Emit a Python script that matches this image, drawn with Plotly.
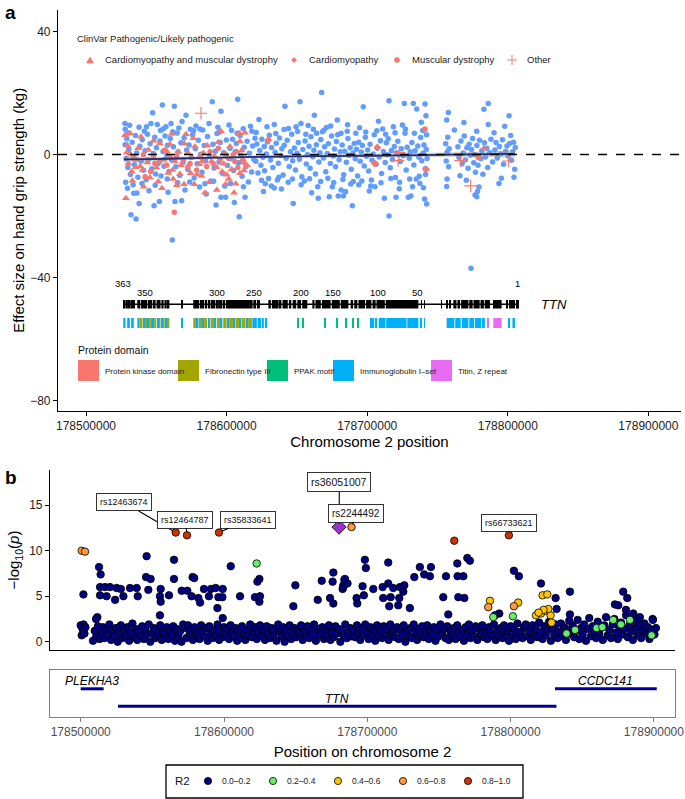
import plotly.graph_objects as go

W, H = 685, 799
FONT = "Liberation Sans, Arial, Helvetica, sans-serif"
REGION_START = 178_500_000          # bp; positions below are kb from this point

# ---------------- panel a data (kb offset, effect in kg) ----------------
a_blue = [
    (27.7,10.1),(32.0,-19.6),(35.6,-21.0),(37.7,8.9),(37.8,-15.9),(46.2,10.1),(47.4,13.6),(48.4,-16.7),
    (50.7,9.8),(52.2,-15.3),(54.3,16.1),(56.9,9.0),(60.5,10.1),(61.4,-27.8),(62.8,15.7),(63.3,-15.3),
    (68.0,-15.0),(68.3,10.7),(71.1,12.8),(78.2,9.3),(83.0,8.0),(87.5,10.1),(89.8,17.2),(92.5,-16.4),
    (96.0,14.1),(96.0,-13.9),(99.3,-13.9),(101.7,9.6),(105.5,-15.6),(107.9,18.0),(109.0,-20.2),(113.1,-13.9),
    (27.9,8.2),(29.5,-11.0),(31.0,9.5),(33.5,-9.8),(36.2,-12.5),(41.5,7.6),(44.8,-11.8),(53.0,7.8),
    (58.4,-12.3),(66.0,8.6),(70.4,-11.5),(74.2,8.2),(80.8,-10.6),(85.5,-12.8),(93.8,8.9),(98.7,-10.2),
    (103.5,7.9),(111.8,8.4),(115.5,-8.9),(117.0,9.2),
    (28.2,-9.0),(30.0,7.0),(34.0,-12.6),(39.8,-9.4),(43.0,9.0),(49.2,-10.0),(55.0,8.4),(57.8,-8.0),(61.7,7.4),
    (65.2,-9.2),(73.8,-8.9),(76.5,7.7),(81.0,8.3),(84.6,-9.5),(90.8,-8.7),(95.0,7.3),(102.8,-9.4),(107.5,6.9),
    (112.0,-10.5),(118.0,7.6),
    (27.8,3.2),(28.5,-1.3),(29.0,5.1),(29.8,-4.2),(30.5,1.8),(31.6,-6.5),(32.8,4.0),(33.9,-0.8),(34.5,-3.3),
    (35.2,6.2),(36.0,0.5),(36.9,-7.4),(38.3,2.7),(39.2,-2.2),(40.0,4.8),(40.9,-5.1),(42.0,1.2),(42.8,-8.2),
    (43.7,6.6),(44.2,-1.7),(45.6,3.5),(46.8,-4.6),(47.9,0.3),(48.9,5.6),(49.5,-6.3),(50.1,2.2),(51.3,-2.9),
    (52.6,4.4),(53.4,-7.0),(54.8,1.0),(55.5,-3.8),(56.2,6.0),(57.5,-0.4),(58.0,3.0),(59.0,-5.5),(59.9,5.2),
    (61.0,-1.9),(62.2,2.5),(63.9,-4.0),(64.8,7.0),(65.5,0.8),(66.7,-6.8),(67.5,3.8),(69.0,-2.6),(69.8,5.4),
    (71.6,1.5),(72.4,-4.9),(73.3,3.1),(74.9,-1.0),(75.8,6.4),(76.9,-7.6),(77.8,1.9),(79.1,-3.0),(79.9,4.6),
    (81.6,0.1),(82.5,-5.8),(84.1,2.9),(85.0,-2.1),(86.4,5.9),(87.9,-0.6),(88.8,-8.6),(90.3,3.3),(91.1,-4.4),
    (92.0,1.1),(93.2,6.8),(94.6,-2.4),(95.4,3.9),(97.1,-6.1),(97.9,0.6),(99.8,4.7),(100.6,-3.6),(102.4,2.0),
    (103.0,-1.4),(104.2,5.0),(105.0,-5.2),(106.1,0.9),(106.9,3.6),(108.4,-2.7),(109.6,6.1),(110.3,-0.2),
    (111.0,-7.1),(112.5,2.4),(113.8,-3.9),(114.6,4.3),(116.2,0.4),(117.8,-5.7),(118.6,2.8),(119.4,-1.6),(120.2,5.3),
    (123.0,11.4),(133.9,9.8),(133.9,-10.9),(136.1,-8.3),(141.5,15.7),(147.4,-15.9),(149.4,9.0),(152.2,17.2),
    (152.9,10.1),(155.3,-8.6),(162.4,12.8),(164.8,-10.5),(165.2,-14.2),(167.6,20.2),(168.1,7.4),(173.0,-13.7),
    (175.2,-10.5),(178.7,11.2),(179.4,-13.5),(181.4,6.9),(181.4,-11.5),(184.7,-12.1),(189.4,-16.7),(190.1,-8.8),
    (197.2,15.5),(215.5,17.5),(226.4,16.6),(232.8,16.6),(235.2,14.8),(241.1,16.4),(241.8,12.6),(218.6,9.0),
    (215.5,-20.0),(184.2,-12.1),(212.2,-14.2),(220.5,-13.9),(229.2,-13.9),(231.1,-13.5),(242.3,-16.1),(201.5,-11.9),
    (202.5,-10.2),(205.5,-10.5),(222.8,-11.1),(232.3,-10.5),(237.5,-9.4),(183.0,-13.5),(127.5,-9.5),(144.0,8.5),
    (158.0,9.4),(171.0,8.8),(186.0,9.7),(194.0,-9.8),(208.0,10.8),(211.0,8.3),(225.0,9.6),(238.5,10.5),
    (240.8,-14.5),(239.5,7.8),(126.2,-12.0),(139.0,-11.2),(160.5,-12.4),
    (121.0,7.2),(124.8,-8.4),(128.7,9.0),(131.8,-10.2),(135.0,6.8),(137.2,-7.4),(140.8,8.1),(143.8,-9.0),
    (146.8,-8.0),(150.5,7.5),(153.0,-9.8),(156.3,6.6),(159.0,-7.9),(161.7,8.2),(164.0,6.9),(166.9,-8.8),
    (169.2,7.9),(172.0,-7.7),(174.0,9.3),(176.2,-9.1),(179.0,6.4),(182.7,-8.1),(185.8,7.6),(188.3,-9.6),
    (191.9,6.9),(194.6,8.7),(196.2,-8.6),(199.0,7.3),(203.0,-8.3),(206.8,7.7),(209.8,-9.2),(213.1,6.6),
    (216.8,-7.8),(219.8,7.1),(223.0,-9.0),(227.2,8.3),(230.2,-8.0),(233.6,6.9),(237.0,-7.1),(240.0,-10.8),
    (241.5,-6.5),(242.2,6.4),
    (120.8,-2.2),(121.5,3.4),(122.3,-6.0),(123.6,1.3),(124.4,-3.5),(125.1,5.0),(125.9,-0.9),(126.8,2.6),(127.0,-5.3),
    (128.2,0.2),(129.0,4.1),(129.8,-7.8),(130.4,6.3),(131.2,-1.8),(132.0,2.3),(132.9,-4.2),(134.5,0.7),(135.3,3.7),
    (136.8,-2.8),(137.6,5.4),(138.4,-0.3),(139.3,1.9),(140.2,-6.7),(141.0,3.0),(142.3,-1.2),(143.1,4.6),(144.5,-3.9),
    (145.4,0.9),(146.3,6.6),(147.0,-2.0),(148.2,2.1),(149.0,-5.0),(150.1,0.4),(151.0,3.9),(151.8,-1.5),(153.5,-7.2),
    (154.2,1.6),(155.8,4.4),(156.7,-3.1),(157.5,0.0),(158.6,2.7),(159.4,-4.5),(160.0,5.8),(161.3,-0.7),(162.0,1.4),
    (163.2,-6.3),(163.9,3.2),(165.6,-2.4),(166.4,0.6),(167.0,4.9),(168.9,-1.1),(169.7,2.5),(170.5,-5.6),(171.6,0.3),
    (172.4,3.5),(173.8,-2.9),(174.6,6.0),(175.9,-0.5),(176.7,1.8),(177.5,-4.0),(178.1,4.2),(180.0,-1.7),(180.8,0.9),
    (182.2,3.1),(183.3,-6.6),(184.0,1.1),(185.2,-2.5),(186.3,5.2),(187.0,-0.2),(187.9,2.2),(188.7,-4.8),(189.9,0.5),
    (190.8,3.6),(191.5,-1.4),(192.4,1.7),(193.2,-7.0),(193.9,4.0),(195.0,-2.2),(195.8,0.8),(196.6,2.9),(197.9,-3.7),
    (198.7,5.6),(199.5,-0.6),(200.3,1.5),(201.0,-5.4),(202.0,3.3),(203.4,-1.9),(204.2,0.2),(205.0,6.4),(206.3,-3.2),
    (207.1,2.0),(208.5,-0.8),(209.4,4.5),(210.2,-6.2),(211.5,1.0),(212.8,-2.6),(213.6,3.8),(214.3,-0.1),(215.0,5.1),
    (216.4,-4.3),(217.2,1.3),(218.0,-1.6),(219.3,2.6),(220.1,-7.5),(221.0,0.6),(221.8,4.3),(223.5,-2.3),(224.3,1.9),
    (225.6,-0.4),(226.9,6.9),(227.7,-5.0),(228.4,2.4),(229.9,-1.2),(230.6,0.9),(231.8,3.9),(233.2,-3.4),(234.0,1.2),
    (234.9,-8.0),(236.0,2.8),(236.8,-0.9),(238.0,5.5),(238.8,-2.0),(239.6,0.4),(240.4,3.1),(241.3,-4.6),(242.0,1.6),
    (242.6,-1.3),
    (256.5,-10.4),(257.7,13.7),(256.5,11.2),(266.0,-6.9),(268.8,10.4),(286.1,16.6),(283.0,14.7),(286.1,9.8),
    (277.9,7.6),(290.2,7.1),(300.9,12.6),(276.7,-13.2),(277.9,-13.7),(293.7,-9.4),(295.4,-7.7),(304.4,-7.4),
    (273.8,-37.0),(279.5,-10.6),(278.4,-12.0),(270.5,-8.4),(262.0,8.0),(297.8,9.2),(302.0,6.2),(256.8,-8.0),
    (255.8,3.5),(256.2,-2.1),(256.9,0.8),(257.3,5.6),(257.9,-4.0),(258.3,1.9),(264.5,2.5),(265.3,-1.0),(266.7,4.4),
    (267.5,-3.0),(268.2,0.5),(269.0,6.0),(269.8,-1.8),(270.9,2.2),(271.7,-4.5),(272.5,3.3),(273.4,-0.2),(274.2,1.6),
    (275.0,5.2),(275.8,-2.7),(276.3,0.0),(277.0,-5.8),(278.0,2.9),(278.8,-3.5),(279.9,4.6),(280.7,-1.4),(281.5,1.2),
    (282.3,-6.4),(283.4,3.8),(284.1,-0.8),(285.0,2.0),(285.7,-4.2),(287.2,0.6),(288.0,5.0),(289.2,-2.4),(290.8,1.5),
    (291.6,3.9),(292.5,-1.1),(294.0,2.6),(295.0,0.2),(296.2,4.8),(297.0,-3.2),(298.5,1.0),(299.4,2.8),(300.2,-0.5),
    (301.3,3.6),(302.6,-1.9),(303.5,0.9),(304.1,4.0),(304.9,-4.8),(305.3,2.3),
]

a_cardio_musc = [   # triangles
    (27.7,6.3),(31.3,6.9),(39.1,5.8),(60.9,6.7),(71.1,6.6),(76.3,5.3),(96.0,7.6),(109.1,6.9),(113.1,7.1),
    (28.9,0.6),(28.4,-14.2),(84.6,-12.4),(105.3,-12.4),(69.7,-9.7),(77.0,-9.7),(51.4,-8.8),(99.3,-9.7),
    (32.5,-5.6),(40.3,-5.0),(50.2,-4.3),(55.0,-1.8),(63.3,-2.3),(43.6,-2.6),(36.5,-1.8),(30.1,-2.9),
    (65.6,0.9),(72.3,0.6),(80.6,-3.2),(89.3,-2.3),(92.9,-4.1),(96.9,-5.6),(103.6,-4.8),(109.5,4.2),
    (110.7,1.3),(91.2,-0.5),(86.3,2.9),(59.7,3.3),(52.6,3.6),(44.3,1.5),(35.3,-4.1),(66.8,-6.3),
    (74.4,-6.1),(82.2,-7.0),(100.0,-6.6),(109.5,-6.1),(112.4,-5.2),(102.4,2.6),(107.2,0.9),(77.5,2.6),
    (61.6,-5.0),(283.0,2.0),
    (29.5,3.0),(33.0,-8.5),(37.0,2.0),(41.0,-10.5),(45.5,-7.5),(48.0,4.5),(54.0,-11.0),(57.5,1.0),(62.0,-8.0),
    (67.5,-3.5),(70.0,3.5),(75.0,-1.0),(79.0,-6.5),(83.5,0.5),(87.5,-9.0),(94.0,4.0),(98.0,-3.0),(101.5,-8.0),
    (106.5,-9.5),(111.5,-1.5),(114.5,-3.5),(38.5,-3.8),(58.5,-6.0),(64.5,-10.0),(93.0,-11.5),
]
a_cardio = [        # diamonds
    (207.2,2.3),(205.5,-2.9),(241.9,-4.8),(129.7,4.7),
]
a_muscular = [      # circles
    (33.6,-1.2),(40.8,-0.1),(47.9,-0.7),(52.6,-2.3),(57.3,-3.4),(64.5,-0.7),(69.2,-1.8),(74.0,-2.9),
    (81.1,-0.7),(85.8,-3.9),(90.5,-2.9),(95.3,-1.8),(101.2,-1.2),(105.9,-2.3),(88.2,0.9),(49.0,-2.9),
    (42.0,-7.2),(78.7,-5.0),(94.1,2.0),(104.7,-0.1),(62.8,-18.8),(241.1,8.3),(279.0,-1.0),
    (30.8,0.3),(46.0,-5.5),(56.0,1.5),(60.0,-1.0),(72.5,-4.0),(83.0,-2.0),(99.0,0.2),(108.0,-4.2),(112.0,-2.5),
]
a_other = [         # crosses
    (81.8,13.4),(222.8,0.7),(222.0,-2.0),(266.4,-2.0),(273.6,-10.2),(300.4,-2.1),
]
clinvar_labels = ["Cardiomyopathy and muscular dystrophy", "Cardiomyopathy", "Muscular dystrophy", "Other"]

smooth_kb = [27, 45, 65, 85, 105, 125, 150, 175, 200, 225, 250, 275, 305]
smooth_fit = [-1.6, -1.5, -1.3, -1.1, -0.9, -0.75, -0.6, -0.5, -0.4, -0.25, -0.1, 0.05, 0.2]
smooth_lo = [-2.7, -2.2, -1.85, -1.6, -1.35, -1.2, -1.05, -0.95, -0.85, -0.75, -0.7, -0.75, -1.0]
smooth_hi = [-0.5, -0.8, -0.75, -0.6, -0.45, -0.3, -0.15, -0.05, 0.05, 0.25, 0.5, 0.85, 1.4]

# TTN exon model (kb)
ttn_span_kb = (26.5, 307.5)
exon_start_kb = [26.5,28.0,30.3,31.5,36.5,39.0,44.0,47.5,50.2,53.6,55.8,58.0,67.8,76.3,81.0,84.5,86.8,88.6,92.5,
                 94.0,96.0,97.6,99.6,101.0,119.0,121.6,129.7,132.2,137.8,139.8,144.3,147.0,150.3,153.8,161.0,
                 163.2,167.8,174.8,181.2,188.2,190.8,193.8,199.2,203.8,206.6,213.2,238.3,240.5,252.7,256.2,
                 258.4,261.3,264.2,266.8,272.6,275.6,280.6,283.6,289.7,291.3,293.0,294.4,299.2,301.0,302.5,
                 304.2,306.0,307.0]
exon_end_kb = [27.5,29.8,31.0,34.8,38.5,43.5,47.0,49.5,53.0,55.2,57.4,59.3,68.3,80.5,84.0,86.2,88.0,92.0,93.4,
               95.5,97.0,99.0,100.4,118.5,121.0,123.7,131.5,137.0,139.0,143.5,146.0,149.5,153.0,157.4,162.5,
               167.0,174.0,180.5,186.6,190.0,193.0,198.5,203.0,206.0,212.5,236.4,238.9,241.1,253.2,256.8,
               259.0,263.5,266.0,272.0,275.0,280.0,283.0,287.3,290.5,292.2,293.6,295.6,299.8,301.6,303.3,
               304.8,306.6,307.5]
exon_label_text = ["363", "350", "300", "250", "200", "150", "100", "50", "1"]
exon_label_kb = [26.3, 42.0, 93.2, 119.5, 152.9, 175.7, 207.7, 236.1, 307.2]
exon_label_eff = [-42.1, -45.0, -45.0, -45.0, -45.0, -45.0, -45.0, -45.0, -42.1]

domain_names = ["Protein kinase domain", "Fibronectin type III", "PPAK motif", "Immunoglobulin I\u2013set", "Titin, Z repeat"]
domain_colors = ["#F8766D", "#A3A500", "#00BF7D", "#00B0F6", "#E76BF3"]
domain_segments = {
    "Protein kinase domain": [],
    "Fibronectin type III": [(38.0,40.2),(41.8,43.5),(45.0,47.0),(48.5,50.0),(51.5,53.0),(54.6,56.0),(58.0,59.3),
                             (76.3,78.5),(80.3,82.5),(84.0,86.2),(88.6,91.0),(93.0,95.5),(97.6,100.0),(101.8,104.5),
                             (106.3,109.0),(110.8,113.5),(115.3,118.0)],
    "PPAK motif": [(150.7,151.3),(154.2,154.8),(169.6,170.2),(178.5,179.3),(184.2,185.8),(189.4,190.0),(193.4,194.0)],
    "Immunoglobulin I\u2013set": [(26.5,28.1),(29.3,31.2),(32.1,34.0),(36.5,38.0),(40.6,41.8),(44.0,45.0),(47.5,48.5),
                                 (50.5,51.5),(53.6,54.6),(56.5,57.4),(67.8,68.4),(78.8,80.0),(82.8,83.8),(86.8,88.0),
                                 (91.3,92.5),(96.0,97.0),(100.4,101.4),(104.8,106.0),(109.3,110.5),(113.8,115.0),
                                 (118.3,121.5),(122.0,124.5),(125.0,126.5),(127.4,128.2),(202.0,202.8),(204.0,205.0),
                                 (206.0,207.0),(208.2,213.0),(213.5,228.0),(228.5,236.4),(238.2,238.9),(240.5,241.1),
                                 (256.5,262.0),(262.6,266.5),(267.2,272.0),(272.6,276.0),(276.6,281.0),(281.5,283.7),
                                 (300.4,301.6),(303.3,305.1)],
    "Titin, Z repeat": [(285.9,286.4),(289.7,295.6)],
}

# ---------------- panel b data (kb offset, -log10 p) ----------------
b_r2_00_02 = [
    (46.0,9.4),(65.1,9.0),(104.7,8.3),(12.8,8.2),(13.9,7.4),(45.6,7.1),(48.8,6.9),(78.1,7.1),(79.2,7.0),(65.1,6.9),
    (124.7,6.9),(123.3,6.6),(149.8,6.2),(176.3,7.6),(175.8,6.6),(168.2,6.7),(184.0,6.8),(183.3,6.2),(182.8,5.8),
    (1.9,5.2),(13.5,6.0),(17.0,6.0),(20.5,6.0),(25.1,5.9),(28.0,5.8),(34.4,5.9),(39.1,5.9),(13.5,5.1),(18.1,5.0),
    (24.0,4.6),(29.8,5.0),(39.8,5.0),(47.2,5.7),(55.8,5.8),(55.3,5.0),(55.8,4.4),(61.6,5.1),(70.5,5.6),(74.4,5.6),
    (77.4,5.0),(82.1,4.8),(83.3,4.3),(86.0,5.8),(89.5,5.0),(90.9,5.8),(94.2,5.9),(96.1,4.9),(99.1,5.8),(98.9,4.9),
    (95.4,3.7),(99.1,2.6),(111.2,5.0),(121.6,4.9),(124.7,4.4),(125.1,5.0),(148.4,3.9),(165.4,4.6),(174.0,4.8),
    (176.3,4.2),(55.3,2.9),(11.6,2.7),(10.7,2.5),
    (198.3,9.0),(199.0,8.1),(214.6,8.7),(236.7,8.2),(244.4,8.2),(239.7,7.4),(243.7,7.2),(232.8,7.1),(254.9,7.2),
    (262.8,8.6),(263.0,7.2),(267.0,7.2),(269.8,9.2),(271.6,8.9),(302.3,7.8),(305.8,7.2),(321.2,6.4),(341.4,5.5),
    (331.4,4.8),(332.1,3.6),(341.4,3.0),(378.6,5.5),(381.4,4.8),(372.8,4.1),(375.1,4.0),(380.5,3.5),(385.6,3.1),
    (390.2,2.7),(399.1,2.5),(184.4,6.9),(183.2,6.0),(196.7,6.1),(204.2,5.8),(210.7,6.0),(214.6,6.4),(218.1,5.9),
    (222.8,6.0),(225.8,6.2),(225.1,5.5),(192.5,4.8),(193.0,4.2),(197.6,5.1),(211.1,4.8),(216.3,4.9),(222.3,4.8),
    (215.3,3.9),(221.6,4.0),(229.7,3.7),(253.0,4.9),(263.5,4.9),(267.7,4.8),(256.5,3.0),(292.1,3.1),(289.1,2.9),
    (186.2,6.4),
    (0.0,1.8),(0.7,0.7),(1.3,1.4),(2.0,1.9),(2.6,0.9),(3.3,1.6),(8.6,0.1),(9.8,1.2),(10.9,0.6),(12.0,1.7),(13.2,0.3),
    (14.3,1.0),(15.5,1.6),(16.6,0.4),(17.8,1.3),(18.9,0.8),(20.0,1.9),(21.2,0.2),(22.3,1.1),(23.5,0.6),(24.6,1.5),
    (25.8,0.0),(26.9,0.9),(28.0,1.8),(29.2,0.4),(30.3,1.3),(31.5,0.7),(32.6,1.6),(33.8,0.1),(34.9,1.0),(36.1,2.0),
    (37.2,0.5),(38.3,1.4),(39.5,0.2),(40.6,1.1),(41.8,0.6),(42.9,1.7),(44.1,0.3),(45.2,1.2),(46.3,0.8),(47.5,1.9),
    (48.6,0.0),(49.8,0.9),(50.9,1.5),(52.1,0.4),(53.2,1.3),(54.3,0.7),(55.5,1.8),(56.6,0.2),(57.8,1.0),(58.9,0.5),
    (60.1,1.6),(61.2,0.3),(62.3,1.2),(63.5,0.8),(64.6,1.7),(65.8,0.1),(66.9,1.4),(68.1,0.6),(69.2,1.1),(70.3,0.0),
    (71.5,1.9),(72.6,1.5),(73.8,0.4),(74.9,1.8),(76.1,0.9),(77.2,1.3),(78.3,0.2),(79.5,1.6),(80.6,0.7),(81.8,1.0),
    (82.9,0.3),(84.1,1.8),(85.2,1.2),(86.3,0.6),(87.5,1.5),(88.6,0.1),(89.8,1.7),(90.9,0.9),(92.1,0.4),(93.2,1.3),
    (94.3,0.7),(95.5,1.9),(96.6,0.2),(97.8,1.1),(98.9,0.5),(100.1,1.6),(101.2,0.8),(102.3,1.4),(103.5,0.3),
    (104.6,1.8),(105.8,1.0),(106.9,0.6),(108.1,1.5),(109.2,0.1),(110.3,1.2),(111.5,0.4),(112.6,1.7),(113.8,0.9),
    (114.9,0.2),(116.1,1.3),(117.2,0.7),(118.3,1.9),(119.5,0.5),(120.6,1.1),(121.8,1.6),(122.9,0.3),(124.1,1.0),
    (125.2,1.8),(126.3,0.6),(127.5,1.3),(128.6,0.2),(129.8,1.7),(130.9,0.9),(132.1,0.4),(133.2,1.5),(134.3,0.7),
    (135.5,1.2),(136.6,0.1),(137.8,1.9),(138.9,1.1),(140.1,0.6),(141.2,1.6),(142.3,0.0),(143.5,1.2),(144.6,0.7),
    (145.8,1.8),(146.9,0.3),(148.1,1.0),(149.2,1.5),(150.3,0.5),(151.5,1.3),(152.6,0.9),(153.8,1.8),(154.9,0.2),
    (156.1,1.1),(157.2,0.6),(158.3,1.7),(159.5,0.4),(160.6,1.2),(161.8,0.8),(162.9,1.9),(164.1,0.1),(165.2,1.4),
    (166.3,0.7),(167.5,1.0),(168.6,1.6),(169.8,0.3),(170.9,1.3),(172.1,0.6),(173.2,1.8),(174.3,0.2),(175.5,1.1),
    (176.6,0.5),(177.8,1.7),(178.9,0.9),(180.1,1.4),(181.2,0.0),(182.3,1.2),(183.5,0.7),(184.6,1.9),(185.8,0.4),
    (186.9,1.0),(188.1,1.5),(189.2,0.6),
    (190.4,1.3),(191.6,0.5),(192.8,1.8),(193.9,0.9),(195.1,0.2),(196.3,1.5),(197.4,0.7),(198.6,1.9),(199.8,1.1),
    (200.9,0.3),(202.1,1.6),(203.3,0.8),(204.4,1.3),(205.6,0.1),(206.8,1.8),(207.9,0.6),(209.1,1.2),(210.3,0.4),
    (211.4,1.7),(212.6,0.9),(213.8,1.4),(214.9,0.2),(216.1,1.9),(217.3,0.7),(218.4,1.1),(219.6,0.5),(220.8,1.6),
    (221.9,0.3),(223.1,1.3),(224.3,0.8),(225.4,1.8),(226.6,0.0),(227.8,1.2),(228.9,0.6),(230.1,1.5),(231.3,0.4),
    (232.4,1.9),(233.6,1.0),(234.8,0.2),(235.9,1.4),(237.1,0.7),(238.3,1.7),(239.4,0.5),(240.6,1.1),(241.8,1.8),
    (242.9,0.3),(244.1,1.3),(245.3,0.8),(246.4,1.6),(247.6,0.1),(248.8,1.2),(249.9,0.6),(251.1,1.9),(252.3,0.9),
    (253.4,1.4),(254.6,0.4),(255.8,1.7),(256.9,0.2),(258.1,1.1),(259.3,0.7),(260.4,1.5),(261.6,0.3),(262.8,1.8),
    (263.9,1.0),(265.1,0.5),(266.3,1.3),(267.4,0.1),(268.6,1.6),(269.8,0.8),(270.9,1.9),(272.1,0.4),(273.3,1.2),
    (274.4,0.6),(275.6,1.7),(276.8,0.2),(277.9,1.4),(279.1,0.9),(280.3,1.8),(281.4,0.5),(282.6,1.1),(283.8,0.3),
    (284.9,1.6),(286.1,1.0),(287.3,0.6),(288.4,1.9),(289.6,0.2),(290.8,1.3),(291.9,0.7),(293.1,1.5),(294.3,0.4),
    (295.4,1.8),(296.6,0.9),(297.8,1.2),(298.9,0.1),(300.1,1.7),(301.3,0.6),(302.4,1.4),(303.6,0.3),(304.8,2.0),
    (305.9,0.8),(307.1,1.1),(308.3,0.4),(309.4,1.6),(310.6,1.9),(311.8,0.6),(312.9,1.2),(314.1,0.2),(315.3,1.8),
    (316.4,0.9),(317.6,1.4),(318.8,0.5),(319.9,2.1),(321.1,1.0),(322.3,0.3),(323.4,1.7),(324.6,0.7),(325.8,1.3),
    (326.9,2.2),(328.1,0.1),(329.3,1.5),(330.4,0.8),(331.6,1.9),(332.8,0.4),(333.9,1.1),(335.1,2.0),(336.3,0.6),
    (337.4,1.6),(338.6,0.2),(339.8,1.3),(340.9,2.3),(342.1,0.9),(343.3,1.8),(344.4,0.5),(345.6,1.2),(346.8,2.4),
    (347.9,0.3),(349.1,1.5),(350.3,0.8),(351.4,1.9),(352.6,0.1),(353.8,1.4),(354.9,2.6),(356.1,0.6),(357.3,1.7),
    (358.4,1.1),(359.6,0.4),(360.8,2.2),(361.9,0.9),(363.1,1.5),(364.3,0.2),(365.4,1.8),(366.6,2.7),(367.8,0.7),
    (368.9,1.3),(370.1,0.4),(371.3,1.9),(372.4,2.5),(373.6,1.0),(374.8,0.3),(375.9,1.6),(377.1,2.1),(378.3,0.8),
    (379.4,1.4),(380.6,2.9),(381.8,0.5),(382.9,1.8),(384.1,1.1),(385.3,0.2),(386.4,2.3),(387.6,1.5),(388.8,0.7),
    (389.9,1.9),(391.1,0.4),(392.3,1.2),(393.4,2.0),(394.6,0.9),(395.8,1.6),(396.9,0.3),(398.1,1.3),(399.3,2.4),
    (400.4,0.8),(401.4,1.5),
]
b_r2_02_04 = [(122.8,8.6),(301.6,2.8),(287.9,2.7),(360.0,1.5),(364.0,1.6),(371.6,2.4),(383.3,2.4),(398.4,0.7),
              (339.0,0.9),(345.0,1.3),(377.0,1.9)]
b_r2_04_06 = [(285.6,4.5),(305.3,4.3),(322.3,5.1),(325.6,5.2),(317.7,2.9),(321.2,3.1),(324.6,3.4),(327.9,2.9),
              (326.3,3.6),(328.6,2.1),(323.0,3.5),(319.5,3.2)]
b_r2_06_08 = [(0.7,10.0),(3.0,9.9),(189.0,12.6),(284.4,3.8),(302.3,3.9)]
b_r2_08_10 = [(66.3,12.0),(74.2,11.7),(96.5,12.0),(260.7,11.1),(298.8,11.7)]
b_lead = [(180.3,12.6)]
r2_labels = ["0.0\u20130.2", "0.2\u20130.4", "0.4\u20130.6", "0.6\u20130.8", "0.8\u20131.0"]
r2_colors = ["#000080", "#66EE66", "#FFC400", "#FF9A3C", "#CC3300"]

# SNP labels: text, point (kb, p), label centre (kb, p), font size
snp_labels = [
    ("rs12463674", 66.3, 12.0, 30.2, 15.3, 9),
    ("rs12464787", 74.2, 11.7, 73.0, 13.4, 9),
    ("rs35833641", 96.5, 12.0, 116.8, 13.4, 9),
    ("rs36051007", 180.3, 12.6, 180.5, 17.5, 10.5),
    ("rs2244492", 189.0, 12.6, 192.2, 14.1, 10),
    ("rs66733621", 298.8, 11.7, 298.8, 13.1, 9),
]

# ---------------- gene track data ----------------
gene_names = ["PLEKHA3", "TTN", "CCDC141"]
gene_start_kb = [0.0, 26.0, 331.0]
gene_end_kb = [16.0, 332.0, 402.0]
gene_row = [0.6, 0.23, 0.6]

xticks_bp = [178500000, 178600000, 178700000, 178800000, 178900000]

# ---------------- helpers ----------------
def bp(kbs):
    return [None if k is None else REGION_START + k * 1000 for k in kbs]

def col(pairs, i):
    return [p[i] for p in pairs]

def px(x):
    return x / W

def py(y):
    return 1 - y / H

BLUE, PINK = "#619CFF", "#F8766D"
EXON_ROW, DOMAIN_ROW = -48.7, -54.8

fig = go.Figure()

# panel a points
fig.add_trace(go.Scatter(x=bp(col(a_blue, 0)), y=col(a_blue, 1), mode="markers",
                         marker=dict(color=BLUE, size=5.5, line=dict(width=0)), hoverinfo="skip"))
for pts, sym, size in [(a_muscular, "circle", 5.5), (a_cardio, "diamond", 6),
                       (a_cardio_musc, "triangle-up", 7)]:
    fig.add_trace(go.Scatter(x=bp(col(pts, 0)), y=col(pts, 1), mode="markers",
                             marker=dict(color=PINK, size=size, symbol=sym, line=dict(width=0)),
                             hoverinfo="skip"))
fig.add_trace(go.Scatter(x=bp(col(a_other, 0)), y=col(a_other, 1), mode="markers",
                         marker=dict(color=PINK, size=9, symbol="cross-thin-open", line=dict(width=1.1, color=PINK)),
                         hoverinfo="skip"))
# smooth + CI
fig.add_trace(go.Scatter(x=bp(smooth_kb), y=smooth_lo, mode="lines", line=dict(width=0), hoverinfo="skip"))
fig.add_trace(go.Scatter(x=bp(smooth_kb), y=smooth_hi, mode="lines", line=dict(width=0), fill="tonexty",
                         fillcolor="rgba(150,150,150,0.45)", hoverinfo="skip"))
fig.add_trace(go.Scatter(x=bp(smooth_kb), y=smooth_fit, mode="lines", line=dict(color="#222C78", width=1.8, shape="spline"),
                         hoverinfo="skip"))

# TTN gene model
fig.add_trace(go.Scatter(x=bp(list(ttn_span_kb)), y=[EXON_ROW, EXON_ROW], mode="lines",
                         line=dict(color="black", width=1.3), hoverinfo="skip"))
fig.add_trace(go.Bar(x=[(e - s) * 1000 for s, e in zip(exon_start_kb, exon_end_kb)], base=bp(exon_start_kb),
                     y=[EXON_ROW] * len(exon_start_kb), orientation="h", width=2.7,
                     marker=dict(color="black", line=dict(width=0)), hoverinfo="skip"))
for name, colr in zip(domain_names, domain_colors):
    segs = domain_segments[name]
    if not segs:
        continue
    fig.add_trace(go.Bar(x=[(e - s) * 1000 for s, e in segs], base=bp([s for s, _ in segs]),
                         y=[DOMAIN_ROW] * len(segs), orientation="h", width=3.25,
                         marker=dict(color=colr, line=dict(width=0)), hoverinfo="skip"))

# panel b points
for pts, colr in zip([b_r2_00_02, b_r2_02_04, b_r2_04_06, b_r2_06_08, b_r2_08_10], r2_colors):
    fig.add_trace(go.Scatter(x=bp(col(pts, 0)), y=col(pts, 1), mode="markers", xaxis="x2", yaxis="y2",
                             marker=dict(color=colr, size=7.5, line=dict(color="black", width=0.8)),
                             hoverinfo="skip"))
fig.add_trace(go.Scatter(x=bp(col(b_lead, 0)), y=col(b_lead, 1), mode="markers", xaxis="x2", yaxis="y2",
                         marker=dict(color="#9933CC", size=11, symbol="diamond", line=dict(color="black", width=0.8)),
                         hoverinfo="skip"))

# gene track
gx, gy = [], []
for s, e, r in zip(gene_start_kb, gene_end_kb, gene_row):
    gx += bp([s, e, None])
    gy += [r, r, None]
fig.add_trace(go.Scatter(x=gx, y=gy, mode="lines", xaxis="x3", yaxis="y3",
                         line=dict(color="#000099", width=3), hoverinfo="skip"))

annotations = []
shapes = []

def paper_text(x, y, text, size, color="#222", xanchor="left"):
    return dict(x=px(x), y=py(y), xref="paper", yref="paper", text=text, showarrow=False,
                xanchor=xanchor, yanchor="middle", font=dict(size=size, color=color))

# exon numbers & TTN label
for t, k, e in zip(exon_label_text, exon_label_kb, exon_label_eff):
    annotations.append(dict(x=bp([k])[0], y=e, xref="x", yref="y", text=t, showarrow=False,
                            xanchor="center", yanchor="middle", font=dict(size=9.5, color="black")))
annotations.append(dict(x=bp([332.5])[0], y=EXON_ROW, xref="x", yref="y", text="<i>TTN</i>", showarrow=False,
                        xanchor="center", yanchor="middle", font=dict(size=13, color="black")))

# gene names
for n, s, e, r in zip(gene_names, gene_start_kb, gene_end_kb, gene_row):
    annotations.append(dict(x=bp([(s + e) / 2])[0], y=r - 0.03, xref="x3", yref="y3", text=f"<i>{n}</i>",
                            showarrow=False, xanchor="center", yanchor="bottom", font=dict(size=12, color="black")))

# SNP labels
for t, pk, pp, lk, lp, fs in snp_labels:
    annotations.append(dict(x=bp([pk])[0], y=pp, xref="x2", yref="y2", ax=bp([lk])[0], ay=lp,
                            axref="x2", ayref="y2", text=t, showarrow=True, arrowhead=0, arrowwidth=1.1,
                            arrowcolor="black", standoff=3, bgcolor="white", bordercolor="#333",
                            borderwidth=1, borderpad=3, font=dict(size=fs, color="#111")))

# panel letters
annotations.append(paper_text(3, 12, "<b>a</b>", 19, "black"))
annotations.append(paper_text(3, 477, "<b>b</b>", 19, "black"))

# ClinVar legend (drawn as key)
annotations.append(paper_text(75, 39, "ClinVar Pathogenic/Likely pathogenic", 9.5))
cv_x = [90, 294, 397, 512]
cy = 60
for lab, cx in zip(clinvar_labels, cv_x):
    annotations.append(paper_text(cx + 13, cy, lab, 9.5))
def P(x, y):
    return f"{px(x):.5f},{py(y):.5f}"
shapes.append(dict(type="path", xref="paper", yref="paper", fillcolor=PINK, line=dict(width=0),
                   path=f"M {P(cv_x[0]-4, cy+3.2)} L {P(cv_x[0]+4, cy+3.2)} L {P(cv_x[0], cy-3.6)} Z"))
shapes.append(dict(type="path", xref="paper", yref="paper", fillcolor=PINK, line=dict(width=0),
                   path=f"M {P(cv_x[1], cy-3)} L {P(cv_x[1]+3, cy)} L {P(cv_x[1], cy+3)} L {P(cv_x[1]-3, cy)} Z"))
shapes.append(dict(type="circle", xref="paper", yref="paper", fillcolor=PINK, line=dict(width=0),
                   x0=px(cv_x[2]-2.8), x1=px(cv_x[2]+2.8), y0=py(cy+2.8), y1=py(cy-2.8)))
shapes.append(dict(type="path", xref="paper", yref="paper", line=dict(color=PINK, width=1),
                   path=f"M {P(cv_x[3]-5, cy)} L {P(cv_x[3]+5, cy)} M {P(cv_x[3], cy-5)} L {P(cv_x[3], cy+5)}"))

# protein domain legend
annotations.append(paper_text(76, 350, "Protein domain", 10.5, "#111"))
dom_x = [78, 178, 267, 333, 431]
for name, colr, dx in zip(domain_names, domain_colors, dom_x):
    shapes.append(dict(type="rect", xref="paper", yref="paper", fillcolor=colr, line=dict(width=0),
                       x0=px(dx), x1=px(dx + 21), y0=py(381), y1=py(360)))
    annotations.append(paper_text(dx + 25, 371, name, 8))

# R2 legend
shapes.append(dict(type="rect", xref="paper", yref="paper", line=dict(color="black", width=1.3),
                   fillcolor="white", x0=px(166), x1=px(523), y0=py(798), y1=py(765)))
annotations.append(paper_text(173, 781, "R2", 11.5, "#111"))
r2_x = [208, 273, 338, 403, 468]
for lab, colr, cx in zip(r2_labels, r2_colors, r2_x):
    shapes.append(dict(type="circle", xref="paper", yref="paper", fillcolor=colr,
                       line=dict(color="black", width=0.8),
                       x0=px(cx - 3.6), x1=px(cx + 3.6), y0=py(781 + 3.6), y1=py(781 - 3.6)))
    annotations.append(paper_text(cx + 12, 781, lab, 8.5))

# dashed zero line in panel a
shapes.append(dict(type="line", xref="x domain", yref="y", x0=0, x1=1, y0=0, y1=0,
                   line=dict(color="black", width=1.6, dash="dash")))

tick_text = [str(v) for v in xticks_bp]
ax_common = dict(showgrid=False, zeroline=False, showline=True, linecolor="black", linewidth=1.1,
                 ticks="outside", ticklen=4, tickwidth=1, tickcolor="black", automargin=False)

xa_range_b = [REGION_START - 21424, REGION_START + 414724]

fig.update_layout(
    template="none",
    width=W, height=H, margin=dict(l=0, r=0, t=0, b=0, pad=0, autoexpand=False),
    paper_bgcolor="white", plot_bgcolor="white",
    font=dict(family=FONT, size=12, color="#1a1a1a"),
    showlegend=False, barmode="overlay",
    xaxis=dict(**ax_common, domain=[px(58), px(681)], range=[REGION_START - 19915, REGION_START + 423186],
               tickvals=xticks_bp, ticktext=tick_text, tickfont=dict(size=12, color="#222"), anchor="y",
               title=dict(text="Chromosome 2 position", font=dict(size=15, color="black"), standoff=1)),
    yaxis=dict(**ax_common, domain=[py(410.5), py(10)], range=[-83.25, 47.0], tickvals=[-80, -40, 0, 40],
               tickfont=dict(size=12, color="#222"), anchor="x",
               title=dict(text="Effect size on hand grip strength (kg)", font=dict(size=15, color="black"), standoff=1)),
    xaxis2=dict(showgrid=False, zeroline=False, showline=True, linecolor="black", linewidth=1.1, automargin=False,
                domain=[px(50), px(675)], range=xa_range_b, showticklabels=False, ticks="", anchor="y2"),
    yaxis2=dict(**ax_common, domain=[py(650), py(470)], range=[-0.91, 18.87], tickvals=[0, 5, 10, 15],
                tickfont=dict(size=12, color="#222"), anchor="x2",
                title=dict(text="\u2212log<sub>10</sub>(<i>p</i>)", font=dict(size=15, color="black"), standoff=5)),
    xaxis3=dict(showgrid=False, zeroline=False, showline=True, mirror=True, linecolor="#808080", linewidth=1,
                ticks="outside", ticklen=4, tickcolor="#808080", domain=[px(50), px(675)], range=xa_range_b,
                tickvals=xticks_bp, ticktext=tick_text, tickfont=dict(size=12, color="#4D4D4D"), anchor="y3",
                automargin=False,
                title=dict(text="Position on chromosome 2", font=dict(size=15, color="black"), standoff=8)),
    yaxis3=dict(showgrid=False, zeroline=False, showline=True, mirror=True, linecolor="#808080", linewidth=1,
                domain=[py(717), py(670)], range=[0, 1], showticklabels=False, ticks="", anchor="x3",
                automargin=False),
    annotations=annotations, shapes=shapes,
)

fig.write_html("out.html", config={"displayModeBar": False, "staticPlot": False},
               post_script="document.body.style.margin='0px';document.body.style.overflow='hidden';")
